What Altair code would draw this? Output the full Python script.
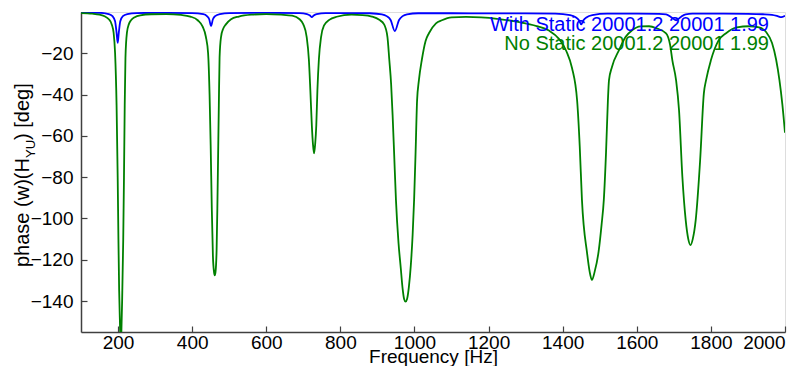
import altair as alt
import pandas as pd

# ---- data ----
blue_freq = [100, 150, 175, 185, 192, 196, 199, 202, 206, 213, 225, 250, 300, 400, 430, 440, 446, 451, 456, 462,
             475, 500, 600, 690, 710, 718, 723, 728, 736, 760, 850, 880, 912, 925, 936, 947, 958, 968, 980, 1010,
             1100, 1200, 1300, 1380, 1420, 1435, 1444, 1450, 1456, 1465, 1480, 1520, 1600, 1660, 1679, 1692, 1706,
             1719, 1732, 1750, 1800, 1900, 1940, 1965, 1980, 1990, 2000]
blue_phase = [-0.4, -0.4, -1.0, -2.0, -4.5, -10.0, -15.0, -10.0, -4.5, -2.0, -1.0, -0.5, -0.4, -0.5, -1.0, -2.0,
              -3.5, -6.8, -3.5, -2.0, -1.0, -0.5, -0.4, -0.5, -1.0, -1.7, -2.5, -1.7, -1.0, -0.5, -0.5, -0.6, -1.1,
              -2.0, -4.0, -9.3, -4.0, -2.0, -1.1, -0.6, -0.6, -0.7, -0.7, -0.8, -1.5, -2.5, -4.0, -6.0, -4.0, -2.5,
              -1.5, -0.8, -0.8, -0.9, -1.1, -2.4, -4.0, -2.4, -1.1, -0.8, -0.8, -0.9, -1.1, -1.4, -2.0, -2.5, -1.8]

green_freq = [100, 130, 150, 165, 175, 183, 188, 192, 196, 199, 201, 203, 205, 207, 209, 211, 214, 216, 218, 220,
              224, 229, 235, 245, 260, 290, 330, 370, 395, 415, 428, 437, 443, 447, 450, 453, 456, 459, 461, 463,
              466, 468, 470, 472, 474, 478, 484, 491, 505, 526, 560, 600, 640, 670, 690, 700, 709, 715, 719, 723,
              726, 729, 732, 735, 738, 742, 748, 756, 770, 790, 830, 860, 885, 905, 918, 927, 932, 937, 941, 945,
              950, 957, 963, 968, 972, 976, 980, 985, 990, 995, 999, 1003, 1007, 1012, 1020, 1030, 1039, 1058, 1074,
              1100, 1139, 1180, 1228, 1280, 1330, 1363, 1390, 1410, 1425, 1439, 1446, 1452, 1466, 1473, 1479, 1486,
              1497, 1505, 1511, 1517, 1522, 1525, 1533, 1552, 1570, 1587, 1610, 1633, 1655, 1679, 1690, 1696, 1706,
              1714, 1723, 1732, 1739, 1745, 1751, 1759, 1771, 1781, 1787, 1800, 1820, 1841, 1870, 1903, 1930, 1949,
              1965, 1976, 1985, 1993, 2000]
green_phase = [-0.5, -0.8, -1.3, -2.2, -3.5, -6.0, -10.0, -20.0, -45.0, -80.0, -110.0, -135.0, -150.0, -162.0,
               -155.0, -140.0, -110.0, -80.0, -45.0, -22.0, -10.0, -6.0, -4.0, -2.5, -1.6, -1.1, -1.0, -1.4, -2.2,
               -4.0, -7.0, -12.0, -20.0, -40.0, -65.0, -95.0, -118.0, -126.0, -127.5, -126.0, -115.0, -95.0, -70.0,
               -45.0, -22.0, -12.0, -8.0, -6.0, -3.5, -2.2, -1.3, -1.0, -1.3, -1.8, -3.5, -6.0, -12.0, -23.0, -38.0,
               -55.0, -64.0, -68.5, -64.0, -55.0, -38.0, -23.0, -12.0, -6.5, -3.8, -2.3, -1.3, -1.5, -2.2, -3.8,
               -6.0, -12.0, -23.0, -35.0, -50.0, -68.0, -91.0, -112.0, -124.0, -134.0, -139.0, -140.3, -139.0,
               -133.0, -123.0, -108.0, -91.0, -68.0, -43.0, -33.0, -23.0, -14.0, -10.3, -5.5, -4.0, -2.6, -2.4, -2.6,
               -3.4, -4.8, -6.8, -9.0, -13.0, -19.0, -27.0, -43.0, -65.0, -91.0, -117.0, -126.0, -129.8, -126.0,
               -116.0, -103.0, -91.0, -68.0, -43.0, -33.0, -26.6, -18.5, -12.0, -8.9, -7.0, -6.9, -8.0, -10.3, -16.0,
               -23.4, -33.0, -47.6, -79.8, -100.8, -110.0, -112.9, -110.0, -100.8, -71.7, -39.4, -33.0, -23.4, -14.0,
               -10.3, -7.5, -6.9, -7.5, -9.7, -15.0, -23.0, -33.0, -45.0, -58.5]

series_names = ["With Static 20001.2 20001 1.99", "No Static 20001.2 20001 1.99"]
series_colors = ["#0000ff", "#008000"]
x_ticks = [200, 400, 600, 800, 1000, 1200, 1400, 1600, 1800, 2000]
y_ticks = [-140, -120, -100, -80, -60, -40, -20]
x_title = "Frequency [Hz]"
y_title_parts = ["phase (w)(H", "YU", ") [deg]"]

df = pd.concat([
    pd.DataFrame({"freq": blue_freq, "phase": blue_phase, "series": series_names[0]}),
    pd.DataFrame({"freq": green_freq, "phase": green_phase, "series": series_names[1]}),
])

FONT = "Liberation Sans"
W, H = 704, 320

xscale = alt.Scale(domain=[100, 2000], nice=False, zero=False)
yscale = alt.Scale(domain=[-155, 0], nice=False, zero=False)
cscale = alt.Scale(domain=series_names, range=series_colors)

lines = alt.Chart(df).mark_line(interpolate="monotone", clip=True, strokeWidth=1.8).encode(
    x=alt.X("freq:Q", scale=xscale, axis=alt.Axis(
        orient="bottom", values=x_ticks, format="d", ticks=False, tickSize=0, labelPadding=1,
        labelFont=FONT, labelFontSize=19, labelColor="black", grid=False,
        domainColor="#404040", domainWidth=1.5,
        title=x_title, titleFont=FONT, titleFontSize=19, titleFontWeight="normal",
        titleColor="black", titleBaseline="alphabetic", titleY=30)),
    y=alt.Y("phase:Q", scale=yscale, axis=alt.Axis(
        orient="left", values=y_ticks, format="d", ticks=False, tickSize=0, labelPadding=8,
        labelFont=FONT, labelFontSize=19, labelColor="black", grid=False,
        domainColor="#404040", domainWidth=1.5, title=None)),
    color=alt.Color("series:N", scale=cscale, legend=None),
    detail="series:N",
)

# inner ticks (axes moved onto the plot edges, ticks pointing inward)
ticks = alt.Chart(df).mark_line(opacity=0).encode(
    x=alt.X("freq:Q", scale=xscale, axis=alt.Axis(
        orient="top", offset=-H, values=x_ticks, labels=False, domain=False,
        ticks=True, tickSize=6, tickColor="#404040", tickWidth=1.2, grid=False, title=None)),
    y=alt.Y("phase:Q", scale=yscale, axis=alt.Axis(
        orient="right", offset=-W, values=y_ticks, labels=False, domain=False,
        ticks=True, tickSize=6, tickColor="#404040", tickWidth=1.2, grid=False, title=None)),
    detail="series:N",
)

legend_df = pd.DataFrame({"name": series_names, "color": series_colors, "ypos": [19, 38]})
legend = alt.Chart(legend_df).mark_text(align="right", baseline="alphabetic", font=FONT, fontSize=20).encode(
    text="name:N",
    x=alt.value(688),
    y=alt.Y("ypos:Q", scale=None, axis=None),
    color=alt.Color("name:N", scale=cscale, legend=None),
)

t1 = alt.Chart(pd.DataFrame({"t": [y_title_parts[0]]})).mark_text(
    angle=270, align="left", baseline="alphabetic", font=FONT, fontSize=20, color="black").encode(
    text="t:N", x=alt.value(-52), y=alt.value(255))
t2 = alt.Chart(pd.DataFrame({"t": [y_title_parts[1]]})).mark_text(
    angle=270, align="left", baseline="alphabetic", font=FONT, fontSize=13, color="black").encode(
    text="t:N", x=alt.value(-46), y=alt.value(146))
t3 = alt.Chart(pd.DataFrame({"t": [y_title_parts[2]]})).mark_text(
    angle=270, align="left", baseline="alphabetic", font=FONT, fontSize=20, color="black").encode(
    text="t:N", x=alt.value(-52), y=alt.value(128))

chart = alt.layer(lines, ticks, legend, t1, t2, t3).resolve_axis(
    x="independent", y="independent"
).properties(
    width=W, height=H,
    autosize=alt.AutoSizeParams(type="none"),
    padding={"left": 73, "top": 4, "right": 18, "bottom": 34},
).configure_view(stroke=None).configure(background="white")

chart.save("out.html", embed_options={"renderer": "svg", "actions": False})
